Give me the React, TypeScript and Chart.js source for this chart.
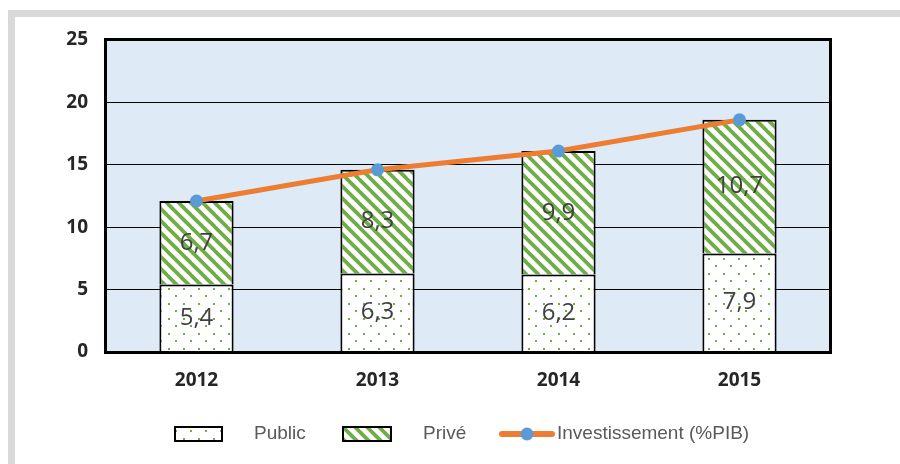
import React, { useEffect, useRef } from "react";
import { Chart, registerables } from "chart.js";

Chart.register(...registerables);

const years = ["2012", "2013", "2014", "2015"];
const publicValues = [5.4, 6.3, 6.2, 7.9];
const priveValues = [6.7, 8.3, 9.9, 10.7];
const investValues = [12.1, 14.6, 16.1, 18.6];
const seriesNames = ["Public", "Privé", "Investissement (%PIB)"];
const yMin = 0;
const yMax = 25;
const yStep = 5;

const GREEN = "#70AD47";
const ORANGE = "#ED7D31";
const BLUE = "#5B9BD5";
const PLOT_BG = "#DEEAF5";
const FRAME = "#D9D9D9";

function makeDots(): CanvasPattern | string {
  const c = document.createElement("canvas");
  c.width = 15;
  c.height = 15;
  const g = c.getContext("2d");
  if (!g) return "#fff";
  g.fillStyle = "#ffffff";
  g.fillRect(0, 0, 15, 15);
  g.fillStyle = GREEN;
  g.fillRect(3, 3, 2, 2);
  g.fillRect(10, 10, 2, 2);
  return g.createPattern(c, "repeat") || "#fff";
}

function makeStripes(): CanvasPattern | string {
  const s = 12;
  const c = document.createElement("canvas");
  c.width = s;
  c.height = s;
  const g = c.getContext("2d");
  if (!g) return "#fff";
  g.fillStyle = "#ffffff";
  g.fillRect(0, 0, s, s);
  g.strokeStyle = GREEN;
  g.lineWidth = 3.8;
  for (const k of [-s, 0, s]) {
    g.beginPath();
    g.moveTo(k - 2, -2);
    g.lineTo(k + s + 2, s + 2);
    g.stroke();
  }
  return g.createPattern(c, "repeat") || "#fff";
}

export default function App() {
  const ref = useRef<HTMLCanvasElement>(null);

  useEffect(() => {
    if (!ref.current) return;
    const dots = makeDots();
    const stripes = makeStripes();

    const framePlugin = {
      id: "framePlugin",
      beforeDraw(chart: any) {
        const { ctx, chartArea } = chart;
        ctx.save();
        ctx.fillStyle = "#ffffff";
        ctx.fillRect(0, 0, chart.width, chart.height);
        ctx.fillStyle = FRAME;
        ctx.fillRect(8, 10, 7, chart.height - 10);
        ctx.fillRect(8, 10, chart.width - 8, 7);
        ctx.fillStyle = PLOT_BG;
        ctx.fillRect(chartArea.left, chartArea.top, chartArea.right - chartArea.left, chartArea.bottom - chartArea.top);
        ctx.restore();
      },
      afterDatasetsDraw(chart: any) {
        const { ctx, chartArea } = chart;
        ctx.save();
        ctx.fillStyle = "#404040";
        ctx.font = '24px "Open Sans"';
        ctx.textAlign = "center";
        ctx.textBaseline = "middle";
        [0, 1].forEach((di) => {
          const meta = chart.getDatasetMeta(di);
          const vals = di === 0 ? publicValues : priveValues;
          meta.data.forEach((el: any, i: number) => {
            const y = (el.y + el.base) / 2;
            ctx.fillText(vals[i].toFixed(1).replace(".", ","), el.x, y);
          });
        });
        ctx.strokeStyle = "#000000";
        ctx.lineWidth = 3;
        ctx.strokeRect(chartArea.left - 0.5, chartArea.top - 0.5, chartArea.right - chartArea.left + 1, chartArea.bottom - chartArea.top + 1);
        ctx.restore();
      },
      afterDraw(chart: any) {
        const { ctx } = chart;
        ctx.save();
        const cy = 434;
        ctx.lineWidth = 2;
        ctx.strokeStyle = "#000";
        ctx.fillStyle = dots as any;
        ctx.fillRect(175, 427, 47, 14);
        ctx.strokeRect(175, 427, 47, 14);
        ctx.fillStyle = stripes as any;
        ctx.fillRect(343, 427, 48, 14);
        ctx.strokeRect(343, 427, 48, 14);
        ctx.strokeStyle = ORANGE;
        ctx.lineWidth = 6;
        ctx.lineCap = "round";
        ctx.beginPath();
        ctx.moveTo(502, cy);
        ctx.lineTo(552, cy);
        ctx.stroke();
        ctx.fillStyle = BLUE;
        ctx.beginPath();
        ctx.arc(527, cy, 6.5, 0, Math.PI * 2);
        ctx.fill();
        ctx.fillStyle = "#595959";
        ctx.font = '19px "Liberation Sans"';
        ctx.textAlign = "left";
        ctx.textBaseline = "middle";
        ctx.fillText(seriesNames[0], 254, cy);
        ctx.fillText(seriesNames[1], 423, cy);
        ctx.fillText(seriesNames[2], 557, cy);
        ctx.restore();
      },
    };

    const chart = new Chart(ref.current, {
      type: "bar",
      data: {
        labels: years,
        datasets: [
          {
            type: "bar",
            label: seriesNames[0],
            data: publicValues,
            backgroundColor: dots as any,
            borderColor: "#000",
            borderWidth: 2,
            stack: "a",
            order: 1,
          },
          {
            type: "bar",
            label: seriesNames[1],
            data: priveValues,
            backgroundColor: stripes as any,
            borderColor: "#000",
            borderWidth: 2,
            stack: "a",
            order: 1,
          },
          {
            type: "line",
            label: seriesNames[2],
            data: investValues,
            borderColor: ORANGE,
            borderWidth: 5,
            pointRadius: 6.5,
            pointBackgroundColor: BLUE,
            pointBorderColor: BLUE,
            pointBorderWidth: 0,
            tension: 0,
            stack: "inv",
            order: 0,
          } as any,
        ],
      },
      options: {
        responsive: false,
        animation: false,
        datasets: { bar: { categoryPercentage: 1, barPercentage: 0.41 } } as any,
        layout: { padding: { left: 0, top: 40, right: 70, bottom: 0 } },
        plugins: { legend: { display: false }, tooltip: { enabled: false } },
        scales: {
          x: {
            stacked: true,
            grid: { display: false, drawTicks: false },
            border: { display: false },
            ticks: { color: "#262626", font: { family: "Open Sans", size: 19, weight: "bold" }, padding: 17 },
            afterFit: (s: any) => {
              s.height = 112;
            },
          },
          y: {
            stacked: true,
            min: yMin,
            max: yMax,
            grid: { color: "#000", lineWidth: 1, drawTicks: false },
            border: { display: false },
            ticks: { stepSize: yStep, color: "#262626", font: { family: "Open Sans", size: 19, weight: "bold" }, padding: 18 },
            afterFit: (s: any) => {
              s.width = 106;
            },
          },
        },
      },
      plugins: [framePlugin],
    });
    return () => chart.destroy();
  }, []);

  return (
    <div style={{ position: "absolute", left: 0, top: 0, width: 900, height: 464 }}>
      <canvas ref={ref} width={900} height={464} style={{ width: 900, height: 464, display: "block" }} />
    </div>
  );
}
